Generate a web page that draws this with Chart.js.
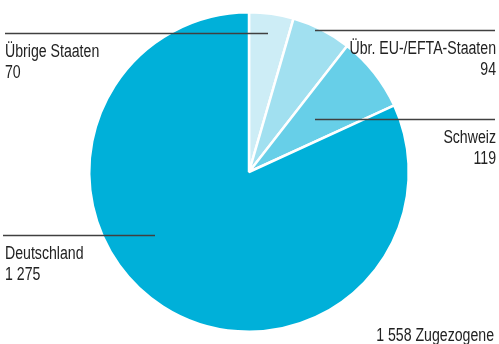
<!DOCTYPE html>
<html lang="de">
<head>
<meta charset="utf-8">
<script src="https://cdn.jsdelivr.net/npm/chart.js@4/dist/chart.umd.min.js"></script>
<style>
    html, body { margin: 0; padding: 0; background: #fff; }
    #wrap { position: relative; width: 499px; height: 344px; }
</style>
</head>
<body>
<div id="wrap"><canvas id="chart"></canvas></div>
<script>
const categories = ["Übrige Staaten", "Übr. EU-/EFTA-Staaten", "Schweiz", "Deutschland"];
const values = [70, 94, 119, 1275];
const valueLabels = ["70", "94", "119", "1 275"];
const totalLabel = "1 558 Zugezogene";
const sliceColors = ["#cdedf6", "#a1e0f0", "#67cfe8", "#00b0d9"];

// leader line + label placement, one per category
const labelLayout = [
    { x1: 5, x2: 268, y: 33.5, tx: 5, align: "left" },
    { x1: 315, x2: 495, y: 30.5, tx: 496, align: "right" },
    { x1: 315, x2: 495, y: 119.5, tx: 496, align: "right" },
    { x1: 3, x2: 155, y: 235.5, tx: 5, align: "left" }
];

const FONT = '18px "Liberation Sans", Arial, sans-serif';
const SQUEEZE = 0.785; // condensed look

// draw text horizontally squeezed, anchored at x
function narrowText(ctx, text, x, y, align) {
    ctx.save();
    ctx.translate(x, y);
    ctx.scale(SQUEEZE, 1);
    ctx.textAlign = align;
    ctx.fillText(text, 0, 0);
    ctx.restore();
}

const labelPlugin = {
    id: "leaderLabels",
    afterDatasetsDraw(chart) {
        const ctx = chart.ctx;
        ctx.save();
        ctx.strokeStyle = "#404040";
        ctx.lineWidth = 1.5;
        ctx.fillStyle = "#222";
        ctx.font = FONT;
        ctx.textBaseline = "alphabetic";
        categories.forEach((name, i) => {
            const l = labelLayout[i];
            ctx.beginPath();
            ctx.moveTo(l.x1, l.y);
            ctx.lineTo(l.x2, l.y);
            ctx.stroke();
            narrowText(ctx, name, l.tx, l.y + 23, l.align);
            narrowText(ctx, valueLabels[i], l.tx, l.y + 44, l.align);
        });
        narrowText(ctx, totalLabel, 494, 341, "right");
        ctx.restore();
    }
};

new Chart(document.getElementById("chart"), {
    type: "pie",
    data: {
        labels: categories,
        datasets: [{
            data: values,
            backgroundColor: sliceColors,
            borderColor: "#ffffff",
            borderWidth: 2.5,
            hoverOffset: 0
        }]
    },
    options: {
        responsive: true,
        maintainAspectRatio: false,
        animation: false,
        layout: {
            padding: { left: 88, right: 89, top: 11, bottom: 11 }
        },
        plugins: {
            legend: { display: false },
            tooltip: { enabled: false }
        }
    },
    plugins: [labelPlugin]
});
</script>
</body>
</html>
